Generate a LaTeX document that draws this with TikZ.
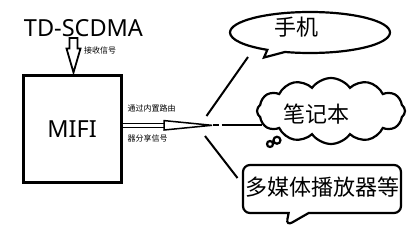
\documentclass[tikz,border=0pt]{standalone}
\usepackage{fontspec}
\setmainfont{Noto Sans}
\newfontfamily\cjk{Noto Sans CJK SC}
\usetikzlibrary{shapes.callouts,shapes.symbols}
\begin{document}
\begin{tikzpicture}[x=1pt,y=-1pt,
  outl/.style={draw=black,line width=2.2pt},
  conn/.style={draw=black,line width=2pt},
  bigtxt/.style={font=\cjk\fontsize{22}{24}\selectfont,inner sep=0pt},
  smalltxt/.style={font=\cjk\fontsize{8}{9}\selectfont,inner sep=0pt},
  latintxt/.style={font=\fontsize{23.5}{26}\selectfont,inner sep=0pt}]
\fill[white] (0,0) rectangle (409,225);
\useasboundingbox (0,0) rectangle (409,225);

% labels
\node[latintxt,anchor=base] (td) at (83.5,36.5) {TD-SCDMA};
\node[smalltxt] (recv) at (100,50.5) {接收信号};

% MIFI box
\node[draw=black,line width=3pt,minimum width=98pt,minimum height=107pt,inner sep=0pt] (mifi) at (72,128.5) {};
\node[latintxt,anchor=base] (mifitxt) at (72,137) {MIFI};

% hollow down arrow
\draw[line width=1.8pt,fill=white,line join=miter]
  (69.5,38) -- (77.5,38) -- (77.5,48.5) -- (80.5,48.5) -- (73.5,72.5)
  -- (66.5,48.5) -- (69.5,48.5) -- cycle;

% router text
\node[smalltxt] (route1) at (151.5,108.5) {通过内置路由};
\node[smalltxt] (route2) at (147.5,138.5) {器分享信号};

% hollow right arrow
\coordinate (hub) at (212,125.3);
\draw[line width=1.5pt,double=white,double distance=2.6pt] (mifi.east |- 0,125.3) -- (166,125.3);
\draw[line width=1.5pt,fill=white,line join=miter] (164,120.6) -- (hub) -- (164,130) -- cycle;

% ellipse callout (phone)
\node[ellipse callout,outl,fill=white,minimum width=160pt,minimum height=41pt,inner sep=0pt,
  callout absolute pointer={(264,57.5)},callout pointer arc=14] (phone) at (310,32.5) {};
\node[bigtxt] (phonetxt) at (296,27.5) {手机};

% cloud callout (laptop)
\node[cloud callout,outl,fill=white,cloud puffs=12,cloud puff arc=110,cloud ignores aspect,
  minimum width=148pt,minimum height=66pt,inner sep=0pt,
  callout absolute pointer={(270,144)},callout pointer segments=2,
  callout pointer start size=14pt and 8pt,callout pointer end size=10pt and 6pt] (laptop) at (331,111) {};
\node[bigtxt] (laptoptxt) at (316,114) {笔记本};

% rectangle callout (media)
\node[rectangle callout,outl,fill=white,rounded corners=7pt,minimum width=158pt,minimum height=48pt,inner sep=0pt,
  callout absolute pointer={(286,226)},callout pointer width=20pt] (media) at (322,189) {};
\node[bigtxt] (mediatxt) at (322,187) {多媒体播放器等};

% connectors
\coordinate (u1) at (206.5,116);
\coordinate (u2) at (248,57);
\coordinate (m1) at (213,124.5);
\coordinate (m2) at (218.5,124.5);
\coordinate (m3) at (221.5,124.5);
\coordinate (m4) at (262,124.5);
\coordinate (l1) at (205,136);
\coordinate (l2) at (237.5,178);
\draw[conn] (u1) -- (u2);
\draw[conn] (m1) -- (m2);
\draw[conn] (m3) -- (m4);
\draw[conn] (l1) -- (l2);
\end{tikzpicture}
\end{document}
